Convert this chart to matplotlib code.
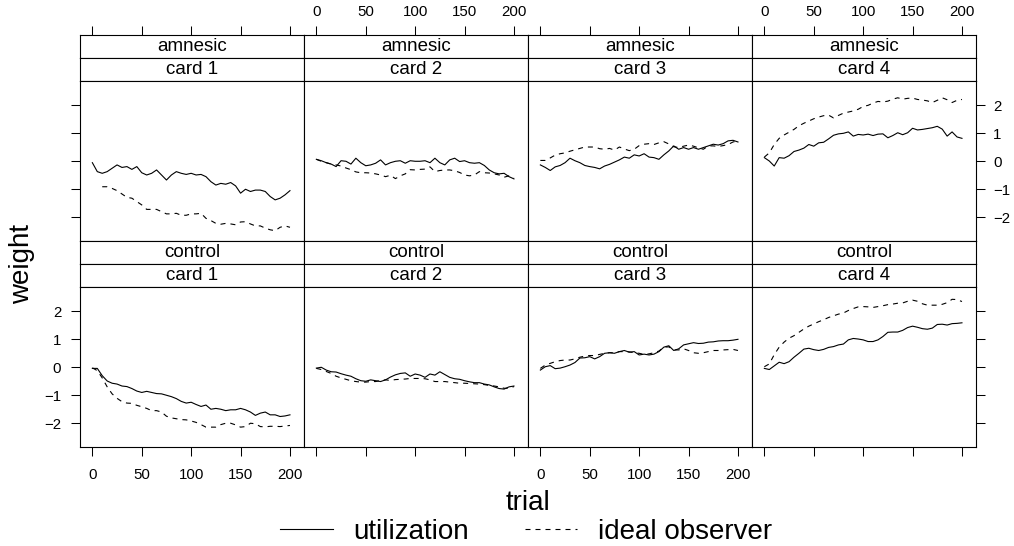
import matplotlib.pyplot as plt
import numpy as np

plt.rcParams['font.family'] = ['Liberation Sans', 'DejaVu Sans']

# trial grid (every 5th trial)
trials = np.arange(0, 201, 5)

groups = ["amnesic", "control"]
cards = ["card 1", "card 2", "card 3", "card 4"]
x_ticks = [0, 50, 100, 150, 200]
y_ticks = [-2, -1, 0, 1, 2]

#---------------- amnesic ----------------
util_amn_1 = [-0.05, -0.37, -0.43, -0.37, -0.25, -0.13, -0.22, -0.19, -0.29, -0.19, -0.41,
              -0.49, -0.43, -0.31, -0.49, -0.67, -0.49, -0.37, -0.43, -0.47, -0.43,
              -0.49, -0.47, -0.55, -0.73, -0.85, -0.79, -0.82, -0.76, -0.88, -1.14,
              -1.0, -1.08, -1.03, -1.03, -1.08, -1.26, -1.38, -1.32, -1.2, -1.05]
ideal_amn_1 = [np.nan, np.nan, -0.91, -0.91, -0.97, -1.05, -1.17, -1.29, -1.32, -1.44, -1.56,
               -1.72, -1.72, -1.72, -1.8, -1.88, -1.88, -1.86, -1.93, -1.93, -1.88,
               -1.88, -1.86, -2.04, -2.12, -2.22, -2.25, -2.22, -2.24, -2.27, -2.17,
               -2.16, -2.24, -2.31, -2.31, -2.39, -2.45, -2.48, -2.36, -2.31, -2.36]

util_amn_2 = [0.07, 0.02, -0.05, -0.1, -0.19, 0.02, 0.0, -0.1, 0.11, -0.05, -0.16,
              -0.13, -0.07, 0.05, -0.13, -0.05, 0.0, 0.02, -0.07, 0.02, 0.0,
              0.0, 0.02, -0.05, 0.11, -0.05, -0.13, 0.05, 0.11, -0.01, 0.02,
              -0.05, -0.07, -0.05, -0.15, -0.31, -0.41, -0.45, -0.43, -0.55, -0.63]
ideal_amn_2 = [0.07, 0.0, -0.05, -0.1, -0.13, -0.17, -0.24, -0.3, -0.38, -0.41, -0.41,
               -0.42, -0.45, -0.49, -0.55, -0.5, -0.62, -0.52, -0.45, -0.3, -0.31,
               -0.29, -0.28, -0.2, -0.37, -0.33, -0.31, -0.31, -0.34, -0.4, -0.49,
               -0.52, -0.49, -0.37, -0.41, -0.42, -0.45, -0.49, -0.57, -0.52, -0.61]

util_amn_3 = [-0.13, -0.22, -0.33, -0.2, -0.15, -0.05, 0.11, 0.02, -0.05, -0.15, -0.19,
              -0.22, -0.27, -0.17, -0.11, -0.03, 0.05, 0.15, 0.11, 0.23, 0.19,
              0.27, 0.15, 0.13, 0.07, 0.23, 0.37, 0.55, 0.43, 0.49, 0.43,
              0.49, 0.43, 0.49, 0.55, 0.61, 0.58, 0.63, 0.73, 0.75, 0.69]
ideal_amn_3 = [0.03, 0.03, 0.12, 0.22, 0.27, 0.3, 0.36, 0.41, 0.46, 0.51, 0.51,
               0.51, 0.45, 0.43, 0.46, 0.4, 0.51, 0.44, 0.38, 0.43, 0.56,
               0.61, 0.63, 0.6, 0.66, 0.7, 0.62, 0.52, 0.49, 0.54, 0.58,
               0.54, 0.48, 0.43, 0.55, 0.55, 0.53, 0.56, 0.6, 0.69, 0.73]

util_amn_4 = [0.13, 0.01, -0.17, 0.13, 0.11, 0.2, 0.35, 0.4, 0.47, 0.6, 0.54,
              0.66, 0.68, 0.8, 0.93, 0.98, 1.0, 1.05, 0.9, 0.96, 0.94,
              0.97, 0.92, 0.97, 0.98, 0.84, 0.92, 1.02, 0.95, 1.02, 1.18,
              1.12, 1.14, 1.17, 1.2, 1.25, 1.15, 0.9, 1.05, 0.87, 0.82]
ideal_amn_4 = [0.15, 0.3, 0.6, 0.82, 0.94, 1.04, 1.14, 1.27, 1.36, 1.44, 1.52,
               1.58, 1.63, 1.65, 1.55, 1.64, 1.72, 1.76, 1.8, 1.86, 1.96,
               2.0, 2.08, 2.14, 2.12, 2.15, 2.22, 2.27, 2.22, 2.25, 2.26,
               2.21, 2.19, 2.16, 2.1, 2.18, 2.27, 2.2, 2.1, 2.18, 2.21]

#---------------- control ----------------
util_con_1 = [-0.04, -0.04, -0.3, -0.49, -0.57, -0.6, -0.67, -0.69, -0.76, -0.85, -0.9,
              -0.86, -0.9, -0.94, -0.95, -1.0, -1.05, -1.12, -1.22, -1.28, -1.25,
              -1.33, -1.4, -1.35, -1.5, -1.47, -1.5, -1.55, -1.52, -1.52, -1.47,
              -1.52, -1.6, -1.72, -1.64, -1.6, -1.7, -1.7, -1.76, -1.74, -1.7]
ideal_con_1 = [-0.02, -0.12, -0.38, -0.7, -0.95, -1.11, -1.23, -1.28, -1.29, -1.36, -1.41,
               -1.47, -1.55, -1.55, -1.6, -1.75, -1.81, -1.84, -1.87, -1.88, -1.92,
               -1.97, -2.05, -2.14, -2.14, -2.14, -2.05, -2.0, -2.0, -2.06, -2.14,
               -2.12, -2.0, -2.02, -2.12, -2.13, -2.11, -2.11, -2.12, -2.1, -2.08]

util_con_2 = [-0.03, 0.0, -0.1, -0.16, -0.17, -0.23, -0.28, -0.32, -0.41, -0.48, -0.5,
              -0.45, -0.48, -0.51, -0.45, -0.35, -0.27, -0.22, -0.2, -0.32, -0.24,
              -0.28, -0.36, -0.24, -0.28, -0.16, -0.26, -0.36, -0.41, -0.43, -0.48,
              -0.52, -0.55, -0.55, -0.6, -0.63, -0.7, -0.76, -0.78, -0.7, -0.67]
ideal_con_2 = [-0.04, -0.08, -0.15, -0.22, -0.32, -0.38, -0.43, -0.48, -0.51, -0.53, -0.53,
               -0.51, -0.51, -0.47, -0.45, -0.47, -0.44, -0.43, -0.42, -0.4, -0.4,
               -0.4, -0.41, -0.45, -0.51, -0.51, -0.51, -0.53, -0.55, -0.57, -0.57,
               -0.58, -0.59, -0.6, -0.62, -0.65, -0.67, -0.7, -0.75, -0.75, -0.69]

util_con_3 = [-0.1, 0.02, 0.06, -0.05, -0.03, 0.02, 0.08, 0.17, 0.33, 0.34, 0.38,
              0.3, 0.38, 0.5, 0.52, 0.5, 0.56, 0.6, 0.54, 0.56, 0.44,
              0.47, 0.44, 0.47, 0.56, 0.72, 0.77, 0.6, 0.66, 0.8, 0.84,
              0.88, 0.85, 0.86, 0.9, 0.91, 0.94, 0.95, 0.95, 0.97, 1.0]
ideal_con_3 = [-0.04, 0.08, 0.14, 0.2, 0.24, 0.26, 0.26, 0.3, 0.36, 0.4, 0.42,
               0.42, 0.46, 0.5, 0.52, 0.52, 0.56, 0.56, 0.55, 0.52, 0.5,
               0.46, 0.48, 0.52, 0.58, 0.72, 0.73, 0.62, 0.62, 0.66, 0.6,
               0.52, 0.5, 0.52, 0.56, 0.6, 0.6, 0.62, 0.63, 0.64, 0.6]

util_con_4 = [-0.04, -0.08, 0.05, 0.18, 0.13, 0.2, 0.36, 0.5, 0.65, 0.68, 0.63,
              0.6, 0.64, 0.71, 0.74, 0.8, 0.83, 0.98, 1.03, 1.01, 0.98,
              0.92, 0.92, 0.98, 1.1, 1.25, 1.26, 1.26, 1.32, 1.42, 1.47,
              1.43, 1.38, 1.36, 1.4, 1.53, 1.54, 1.51, 1.56, 1.57, 1.59]
ideal_con_4 = [0.02, 0.12, 0.45, 0.72, 0.9, 1.04, 1.13, 1.25, 1.37, 1.47, 1.55,
               1.63, 1.7, 1.78, 1.84, 1.9, 1.94, 2.03, 2.1, 2.16, 2.17,
               2.16, 2.14, 2.17, 2.2, 2.24, 2.26, 2.29, 2.3, 2.36, 2.4,
               2.36, 2.27, 2.22, 2.22, 2.22, 2.25, 2.31, 2.43, 2.42, 2.35]

util = [[util_amn_1, util_amn_2, util_amn_3, util_amn_4],
        [util_con_1, util_con_2, util_con_3, util_con_4]]
ideal = [[ideal_amn_1, ideal_amn_2, ideal_amn_3, ideal_amn_4],
         [ideal_con_1, ideal_con_2, ideal_con_3, ideal_con_4]]

#"############## layout (pixels) ##############"
W, H = 1014, 546
fig = plt.figure(figsize=(W / 100, H / 100), dpi=100)


def box(left, top, w, h):
    return [left / W, 1 - (top + h) / H, w / W, h / H]


col_left = [80, 304, 528, 752]
pw, ph, sh = 224, 160, 23
panel_top = [81, 287]
xlim = (-12.5, 214.2)
ylim = (-2.85, 2.87)
tick_kw = dict(direction='out', length=6.5, width=0.75, labelsize=10.8)
dash = (0, (4.5, 4.5))

for r in range(2):
    for c in range(4):
        top = panel_top[r]
        # strips
        for k, txt in enumerate([groups[r], cards[c]]):
            sax = fig.add_axes(box(col_left[c], top - 2 * sh + k * sh, pw, sh))
            sax.set_xlim(xlim)
            sax.set_yticks([])
            sax.text(0.5, 0.48, txt, ha='center', va='center', fontsize=13.5,
                     transform=sax.transAxes)
            for sp in sax.spines.values():
                sp.set_linewidth(0.8)
            if r == 0 and k == 0:
                sax.xaxis.tick_top()
                sax.set_xticks(x_ticks)
                sax.tick_params(axis='x', pad=5, **tick_kw)
                if c % 2 == 0:
                    sax.set_xticklabels([])
            else:
                sax.set_xticks([])

        ax = fig.add_axes(box(col_left[c], top, pw, ph))
        ax.plot(trials, util[r][c], color='black', lw=0.8)
        ax.plot(trials, ideal[r][c], color='black', lw=0.8, linestyle=dash)
        ax.set_xlim(xlim)
        ax.set_ylim(ylim)
        for sp in ax.spines.values():
            sp.set_linewidth(0.8)

        # x ticks only below the bottom row
        if r == 1:
            ax.set_xticks(x_ticks)
            ax.tick_params(axis='x', pad=8.5, **tick_kw)
            if c % 2 == 1:
                ax.set_xticklabels([])
        else:
            ax.set_xticks([])

        # y ticks alternate left / right
        if c == 0:
            ax.set_yticks(y_ticks)
            ax.tick_params(axis='y', pad=7, **tick_kw)
            if r == 0:
                ax.set_yticklabels([])
        elif c == 3:
            ax.yaxis.tick_right()
            ax.set_yticks(y_ticks)
            ax.tick_params(axis='y', pad=6, **tick_kw)
            if r == 1:
                ax.set_yticklabels([])
        else:
            ax.set_yticks([])

fig.text(22 / W, 1 - 264 / H, "weight", rotation=90, ha='center', va='center', fontsize=20)
fig.text(528 / W, 1 - 503 / H, "trial", ha='center', va='center', fontsize=20)

handles = [plt.Line2D([], [], color='black', lw=0.8),
           plt.Line2D([], [], color='black', lw=0.8, linestyle=dash)]
fig.legend(handles, ["utilization", "ideal observer"], loc='center',
           bbox_to_anchor=(526 / W, 1 - 532 / H), ncol=2, frameon=False, fontsize=20,
           handlelength=1.9, handletextpad=0.75, columnspacing=2.0, borderpad=0,
           borderaxespad=0)

fig.savefig("out.png", dpi=100)
